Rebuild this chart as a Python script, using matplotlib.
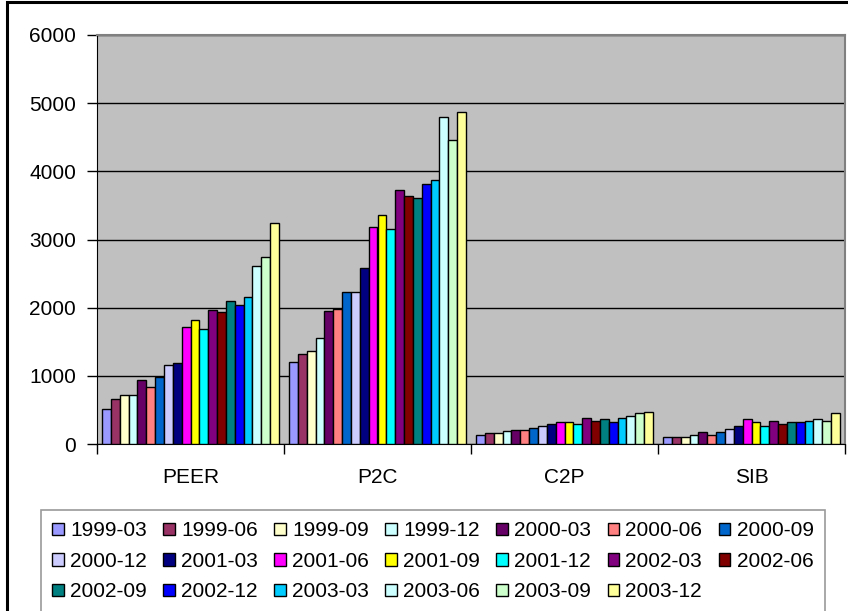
import numpy as np
import matplotlib.pyplot as plt
from matplotlib.patches import Rectangle

plt.rcParams['font.family'] = ['Liberation Sans', 'DejaVu Sans']

categories = ["PEER", "P2C", "C2P", "SIB"]
quarters = ["1999-03", "1999-06", "1999-09", "1999-12", "2000-03", "2000-06",
            "2000-09", "2000-12", "2001-03", "2001-06", "2001-09", "2001-12",
            "2002-03", "2002-06", "2002-09", "2002-12", "2003-03", "2003-06",
            "2003-09", "2003-12"]

peer = [518, 660, 723, 723, 934, 841, 978, 1159, 1188, 1711, 1824, 1687,
        1961, 1936, 2102, 2034, 2151, 2606, 2743, 3246]
p2c = [1208, 1320, 1369, 1550, 1946, 1985, 2235, 2235, 2582, 3178, 3359, 3154,
       3726, 3633, 3609, 3814, 3868, 4802, 4455, 4866]
c2p = [137, 161, 161, 186, 205, 205, 230, 269, 298, 318, 318, 298,
       386, 337, 362, 318, 386, 411, 455, 474]
sib = [108, 108, 108, 137, 181, 137, 181, 225, 269, 362, 318, 269,
       337, 298, 318, 318, 337, 362, 337, 455]

colors = ["#9999FF", "#993366", "#FFFFCC", "#CCFFFF", "#660066", "#FF8080",
          "#0066CC", "#CCCCFF", "#000080", "#FF00FF", "#FFFF00", "#00FFFF",
          "#800080", "#800000", "#008080", "#0000FF", "#00CCFF", "#CCFFFF",
          "#CCFFCC", "#FFFF99"]

values = np.array([peer, p2c, c2p, sib])  # shape (category, quarter)

W, H = 848, 611
FS = 15
fig = plt.figure(figsize=(W / 100, H / 100), dpi=100)
ax = fig.add_axes([97 / W, (H - 444) / H, (845 - 97) / W, (444 - 35) / H])
ax.set_facecolor("#C0C0C0")

n = len(quarters)
bw = 0.947 / n
x = np.arange(len(categories))
bars = []
for i, q in enumerate(quarters):
    b = ax.bar(x - 0.947 / 2 + (i + 0.5) * bw, values[:, i], width=bw,
               color=colors[i], edgecolor="black", linewidth=1.0, label=q, zorder=3)
    bars.append(b)

ax.set_xlim(-0.5, len(categories) - 0.5)
ax.set_ylim(0, 6000)
ax.set_yticks(np.arange(0, 6001, 1000))
ax.yaxis.grid(True, color="black", linewidth=1.0, zorder=1)
ax.tick_params(axis="y", length=7, width=1, labelsize=FS, pad=8, color="black")

# category labels centred, ticks at the group boundaries
ax.set_xticks(np.arange(-0.5, len(categories), 1.0))
ax.set_xticklabels([])
ax.set_xticks(x, minor=True)
ax.set_xticklabels(categories, minor=True, fontsize=FS)
ax.tick_params(axis="x", which="major", length=7, width=1, direction="out")
ax.tick_params(axis="x", which="minor", length=0, pad=17)

for side in ["top", "right"]:
    ax.spines[side].set_color("#808080")
    ax.spines[side].set_linewidth(1.5)
ax.spines["left"].set_color("black")
ax.spines["bottom"].set_color("black")

# legend is filled column by column, so reorder to read across rows
ncol = 7
order = [r * ncol + c for c in range(ncol) for r in range(3) if r * ncol + c < n]
leg = fig.legend([bars[k] for k in order], [quarters[k] for k in order],
                 loc="upper left", bbox_to_anchor=(41 / W, (H - 510) / H),
                 ncol=ncol, fontsize=FS, frameon=True, fancybox=False,
                 edgecolor="#808080", handlelength=0.55, handleheight=0.55,
                 handletextpad=0.3, columnspacing=0.79, labelspacing=0.55,
                 borderpad=0.55, borderaxespad=0)
leg.get_frame().set_linewidth(1.2)

# outer chart border
fig.patches.append(Rectangle((7 / W, -0.1), 1.2, 1.1 - 2 / H, transform=fig.transFigure,
                             fill=False, edgecolor="black", linewidth=2.2))

fig.savefig("out.png", dpi=100)
